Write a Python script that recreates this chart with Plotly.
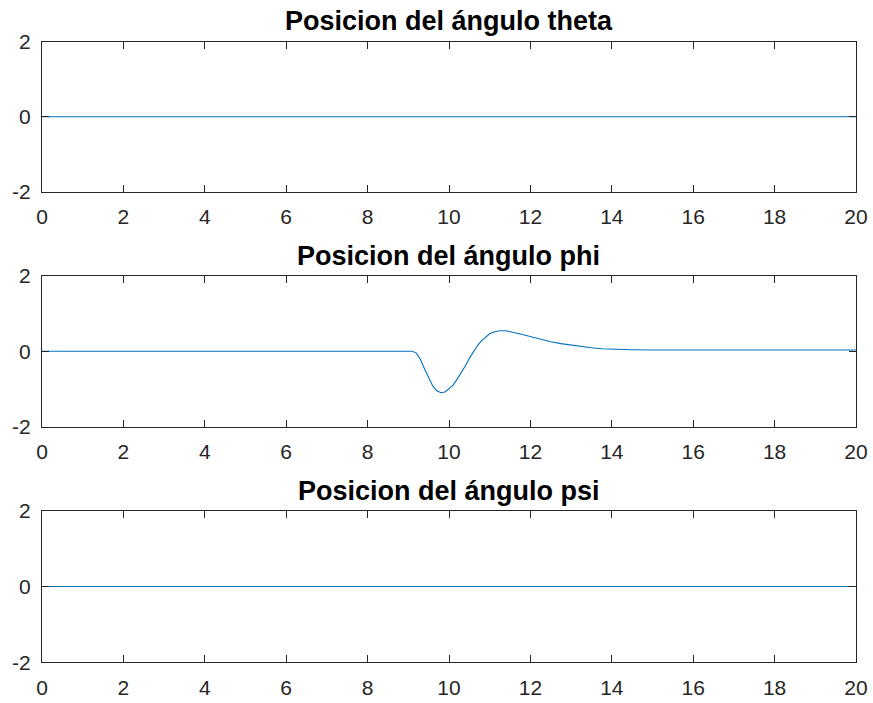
import plotly.graph_objects as go

# ---- data ----
t_theta = [0, 20]
theta = [0, 0]

t_phi = [0, 9.1, 9.2, 9.3, 9.4, 9.5, 9.6, 9.7, 9.8, 9.9, 10.0, 10.1, 10.2, 10.3,
         10.4, 10.5, 10.6, 10.7, 10.8, 10.9, 11.0, 11.1, 11.25, 11.4, 11.5, 11.6,
         11.7, 11.8, 11.9, 12.0, 12.25, 12.5, 12.75, 13.0, 13.25, 13.5, 13.75,
         14.0, 14.5, 15.0, 16.0, 18.0, 20.0]
phi = [0, 0, -0.05, -0.22, -0.47, -0.72, -0.92, -1.05, -1.10, -1.08, -1.00, -0.90,
       -0.74, -0.58, -0.39, -0.19, -0.01, 0.15, 0.28, 0.38, 0.46, 0.51, 0.54, 0.54,
       0.52, 0.50, 0.47, 0.44, 0.41, 0.38, 0.31, 0.25, 0.20, 0.16, 0.12, 0.09, 0.065,
       0.05, 0.037, 0.03, 0.03, 0.03, 0.03]

t_psi = [0, 20]
psi = [0, 0]

titles = ["Posicion del ángulo theta", "Posicion del ángulo phi", "Posicion del ángulo psi"]
x_ticks = [0, 2, 4, 6, 8, 10, 12, 14, 16, 18, 20]
x_labels = ["0", "2", "4", "6", "8", "10", "12", "14", "16", "18", "20"]
y_ticks = [-2, 0, 2]
y_labels = ["-2", "0", "2"]

# ---- layout ----
W, H = 873, 703
x0, x1 = 42, 856
boxes = [(41.7, 191.7), (275.7, 426.7), (510.7, 662.3)]  # (top, bottom) in px
title_y = [21, 256, 491]

fig = go.Figure()
series = [(t_theta, theta), (t_phi, phi), (t_psi, psi)]
font_family = "Liberation Sans, Arial, sans-serif"
axcol = "#262626"

for i, ((tx, ty), (top, bot)) in enumerate(zip(series, boxes)):
    n = i + 1
    xa = "x" if n == 1 else f"x{n}"
    ya = "y" if n == 1 else f"y{n}"
    fig.add_trace(go.Scatter(x=tx, y=ty, mode="lines", xaxis=xa, yaxis=ya,
                             line=dict(color="#0072BD", width=1.1),
                             showlegend=False, hoverinfo="skip"))
    common = dict(showline=True, mirror="ticks", linecolor=axcol, linewidth=1,
                  ticks="inside", ticklen=7, tickcolor=axcol, tickwidth=1,
                  showgrid=False, zeroline=False, automargin=False,
                  tickfont=dict(family=font_family, size=21, color=axcol))
    fig.layout[("xaxis" if n == 1 else f"xaxis{n}")] = dict(
        domain=[x0 / W, x1 / W], anchor=ya, range=[0, 20], tickvals=x_ticks,
        ticktext=x_labels, ticklabelstandoff=6, **common)
    fig.layout[("yaxis" if n == 1 else f"yaxis{n}")] = dict(
        domain=[1 - bot / H, 1 - top / H], anchor=xa, range=[-2, 2], tickvals=y_ticks,
        ticktext=y_labels, ticklabelstandoff=6, **common)
    fig.add_annotation(text=f"<b>{titles[i]}</b>", xref="paper", yref="paper",
                       x=((x0 + x1) / 2) / W, y=1 - title_y[i] / H, showarrow=False,
                       xanchor="center", yanchor="middle",
                       font=dict(family=font_family, size=27, color="#000000"))

fig.update_layout(width=W, height=H, margin=dict(l=0, r=0, t=0, b=0, autoexpand=False),
                  paper_bgcolor="white", plot_bgcolor="white")

fig.write_html("out.html")
